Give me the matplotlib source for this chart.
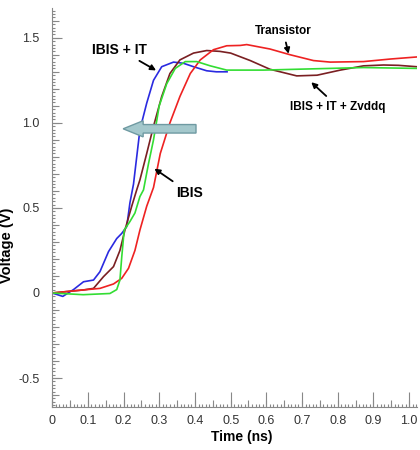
import matplotlib.pyplot as plt
from matplotlib.ticker import MultipleLocator, NullFormatter, FuncFormatter
from matplotlib.patches import FancyArrow

plt.rcParams['font.family'] = ['Liberation Sans', 'DejaVu Sans']

# IBIS + IT (blue)
t_blue = [0.0, 0.03, 0.06, 0.088, 0.116, 0.134, 0.158, 0.181, 0.195, 0.209, 0.218, 0.228,
          0.246, 0.265, 0.284, 0.307, 0.34, 0.368, 0.396, 0.433, 0.46, 0.49]
v_blue = [0.0, -0.02, 0.02, 0.066, 0.076, 0.125, 0.243, 0.32, 0.35, 0.39, 0.53, 0.64,
          0.96, 1.116, 1.25, 1.33, 1.357, 1.35, 1.33, 1.306, 1.30, 1.30]

# IBIS + IT + Zvddq (brown)
t_brown = [0.0, 0.088, 0.116, 0.144, 0.172, 0.19, 0.204, 0.223, 0.237, 0.246, 0.265, 0.284,
           0.307, 0.33, 0.358, 0.396, 0.433, 0.47, 0.5, 0.555, 0.61, 0.685, 0.742, 0.807,
           0.872, 0.928, 0.97, 1.02]
v_brown = [0.0, 0.018, 0.027, 0.096, 0.155, 0.25, 0.37, 0.51, 0.606, 0.665, 0.82, 0.98,
           1.155, 1.29, 1.37, 1.41, 1.425, 1.42, 1.41, 1.366, 1.315, 1.276, 1.28, 1.31,
           1.335, 1.34, 1.338, 1.33]

# Transistor (red)
t_red = [0.0, 0.088, 0.134, 0.172, 0.195, 0.214, 0.232, 0.246, 0.265, 0.284, 0.303, 0.33,
         0.358, 0.387, 0.415, 0.452, 0.489, 0.527, 0.545, 0.61, 0.667, 0.732, 0.779, 0.872,
         0.947, 1.02]
v_red = [0.0, 0.018, 0.027, 0.053, 0.086, 0.145, 0.25, 0.37, 0.51, 0.62, 0.82, 1.0,
         1.155, 1.29, 1.37, 1.43, 1.453, 1.455, 1.46, 1.434, 1.40, 1.366, 1.357, 1.36,
         1.375, 1.387]

# IBIS (green)
t_green = [0.0, 0.087, 0.162, 0.181, 0.19, 0.195, 0.202, 0.218, 0.232, 0.246, 0.256, 0.27,
           0.284, 0.3, 0.321, 0.345, 0.373, 0.405, 0.443, 0.489, 0.527, 0.592, 0.685, 0.779,
           0.872, 1.02]
v_green = [0.0, -0.01, -0.003, 0.02, 0.076, 0.21, 0.37, 0.42, 0.47, 0.567, 0.606, 0.76,
           0.9, 1.1, 1.23, 1.32, 1.36, 1.36, 1.335, 1.31, 1.31, 1.31, 1.315, 1.32,
           1.325, 1.32]

fig = plt.figure(figsize=(4.2, 4.5), dpi=100)
ax = fig.add_axes([0.124, 0.0956, 0.869, 0.887])

ax.plot(t_blue, v_blue, color='#2a2ae0', lw=1.2)
ax.plot(t_brown, v_brown, color='#7a1f22', lw=1.2)
ax.plot(t_red, v_red, color='#ee2222', lw=1.2)
ax.plot(t_green, v_green, color='#33dd33', lw=1.2)

ax.set_xlim(0, 1.022)
ax.set_ylim(-0.67, 1.676)

for s in ['top', 'right']:
    ax.spines[s].set_visible(False)
for s in ['left', 'bottom']:
    ax.spines[s].set_color('#888888')

fmt = FuncFormatter(lambda v, p: '0' if abs(v) < 1e-9 else f'{v:.1f}')
ax.xaxis.set_major_locator(MultipleLocator(0.1))
ax.xaxis.set_minor_locator(MultipleLocator(0.01))
ax.xaxis.set_major_formatter(fmt)
ax.yaxis.set_major_locator(MultipleLocator(0.5))
ax.yaxis.set_minor_locator(MultipleLocator(0.02))
ax.yaxis.set_major_formatter(fmt)

ax.tick_params(axis='x', which='major', direction='in', length=11, width=0.8,
               color='#888888', labelsize=9, labelcolor='#333333', pad=6)
ax.tick_params(axis='x', which='minor', direction='in', length=2.5, width=0.8, color='#888888')
ax.tick_params(axis='y', which='major', direction='in', length=7, width=0.8,
               color='#888888', labelsize=9, labelcolor='#333333', pad=9)
ax.tick_params(axis='y', which='minor', direction='in', length=2.5, width=0.8, color='#888888')

# medium ticks
secx = ax.secondary_xaxis('bottom')
secx.xaxis.set_major_locator(MultipleLocator(0.05))
secx.xaxis.set_major_formatter(NullFormatter())
secx.tick_params(direction='in', length=5, width=0.8, color='#888888')
secx.spines['bottom'].set_visible(False)
secy = ax.secondary_yaxis('left')
secy.yaxis.set_major_locator(MultipleLocator(0.1))
secy.yaxis.set_major_formatter(NullFormatter())
secy.tick_params(direction='in', length=5, width=0.8, color='#888888')
secy.spines['left'].set_visible(False)

ax.set_xlabel('Time (ns)', fontsize=10, fontweight='bold')
ax.set_ylabel('Voltage (V)', fontsize=10.5, fontweight='bold')
ax.xaxis.set_label_coords(0.52, -0.058)
ax.yaxis.set_label_coords(-0.103, 0.404)

arrow = FancyArrow(0.403, 0.965, -0.148, 0, width=0.05, head_width=0.095,
                   head_length=0.056, length_includes_head=False,
                   facecolor='#a4c8cc', edgecolor='#6f9aa2', lw=1, zorder=5)
ax.add_patch(arrow)

aprops = dict(arrowstyle='-|>', color='black', lw=1.3, mutation_scale=8)
ax.annotate('IBIS + IT', xy=(0.298, 1.3), xytext=(0.19, 1.43), fontsize=10,
            fontweight='bold', ha='center', va='center', arrowprops=aprops)
ax.annotate('IBIS', xy=(0.28, 0.74), xytext=(0.384, 0.59), fontsize=10,
            fontweight='bold', ha='center', va='center', arrowprops=aprops)
ax.annotate('Transistor', xy=(0.664, 1.39), xytext=(0.647, 1.54), fontsize=8.5,
            fontweight='bold', ha='center', va='center', arrowprops=aprops)
ax.annotate('IBIS + IT + Zvddq', xy=(0.72, 1.25), xytext=(0.80, 1.095), fontsize=8.5,
            fontweight='bold', ha='center', va='center', arrowprops=aprops)

fig.savefig('out.png', dpi=100)
